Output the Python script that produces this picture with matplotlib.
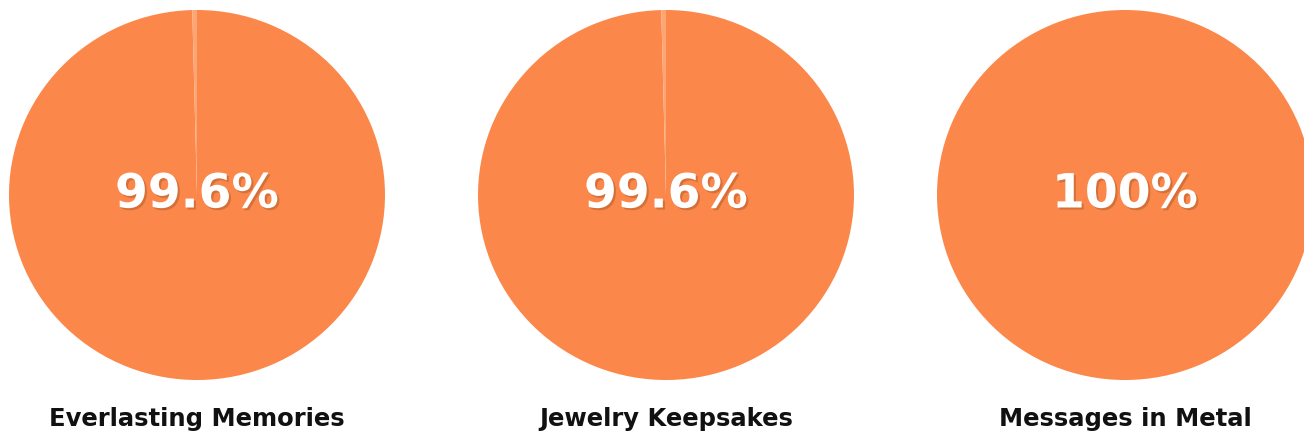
import matplotlib
matplotlib.use('Agg')
import matplotlib.pyplot as plt
import matplotlib.patheffects as pe

labels = ['Everlasting Memories', 'Jewelry Keepsakes', 'Messages in Metal']
values = [99.6, 99.6, 100]
centers_x = [197, 666, 1125]   # pixel centres of each pie

W, H = 1304, 436
RX, RY = 188, 185
cy = 195
main_color = '#FB884A'
rest_color = '#FDA574'

fig = plt.figure(figsize=(W / 100, H / 100), dpi=100)

for name, val, cx in zip(labels, values, centers_x):
    ax = fig.add_axes([(cx - RX) / W, (H - cy - RY) / H, 2 * RX / W, 2 * RY / H])
    sizes = [val, 100 - val] if val < 100 else [val]
    cols = [main_color, rest_color][:len(sizes)]
    ax.pie(sizes, colors=cols, startangle=90, counterclock=False, radius=1,
           wedgeprops=dict(linewidth=0))
    ax.set_xlim(-1, 1)
    ax.set_ylim(-1, 1)
    ax.set_aspect('auto')
    ax.axis('off')
    txt = '{:g}%'.format(val)
    ax.text(0, 0, txt, ha='center', va='center', fontsize=34, color='white',
            fontfamily='DejaVu Sans', fontweight='bold',
            path_effects=[pe.withSimplePatchShadow(offset=(1.5, -1.5), shadow_rgbFace='#7a3a10', alpha=0.3)])
    fig.text(cx / W, 1 - 419 / H, name, ha='center', va='center', fontsize=17.5,
             fontfamily='DejaVu Sans', fontweight='bold', color='#111111')

fig.savefig('out.png', dpi=100)
